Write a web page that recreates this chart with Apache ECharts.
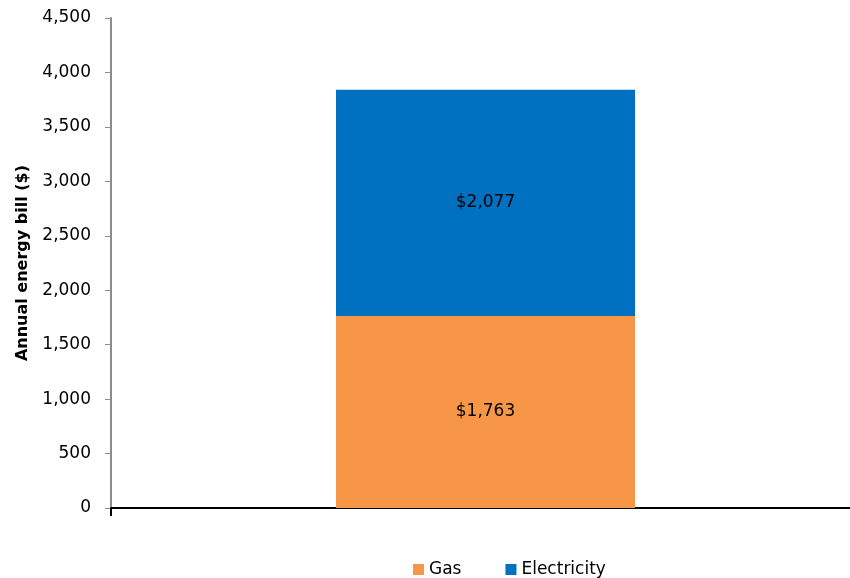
<!DOCTYPE html>
<html>
<head>
<meta charset="utf-8">
<script src="https://cdn.jsdelivr.net/npm/echarts@6/dist/echarts.min.js"></script>
<style>
  html, body { margin: 0; padding: 0; background: #fff; }
  #chart { width: 850px; height: 578px; }
</style>
</head>
<body>
<div id="chart"></div>
<script>
// Annual energy bill, split into gas and electricity
const categories = ['Annual bill'];
const gasValues = [1763];
const electricityValues = [2077];
const yTicks = { min: 0, max: 4500, interval: 500 };

const font = '"DejaVu Sans", "Liberation Sans", Arial, sans-serif';
const dollar = v => '$' + v.toLocaleString('en-US');

const chart = echarts.init(document.getElementById('chart'), null, { renderer: 'canvas' });
chart.setOption({
  animation: false,
  textStyle: { fontFamily: font },
  grid: {
    left: 111, top: 18, width: 749, height: 490,
    containLabel: false, outerBoundsMode: 'none'
  },
  legend: {
    top: 556,
    left: 408,
    itemWidth: 11,
    itemHeight: 11,
    itemGap: 44,
    icon: 'rect',
    textStyle: { fontSize: 17, color: '#000', fontFamily: font },
    data: ['Gas', 'Electricity']
  },
  xAxis: {
    type: 'category',
    data: categories,
    axisLine: { lineStyle: { color: '#000', width: 2 } },
    axisTick: { show: true, length: 8, lineStyle: { color: '#000', width: 2 } },
    axisLabel: { show: false },
    splitLine: { show: false }
  },
  yAxis: {
    type: 'value',
    min: yTicks.min,
    max: yTicks.max,
    interval: yTicks.interval,
    name: 'Annual energy bill ($)',
    nameLocation: 'middle',
    nameGap: 80,
    nameRotate: 90,
    nameTextStyle: { fontSize: 16, fontWeight: 'bold', color: '#000', fontFamily: font },
    axisLine: { show: true, lineStyle: { color: '#8c8c8c', width: 2 } },
    axisTick: { show: true, length: 6, lineStyle: { color: '#8c8c8c', width: 1 } },
    axisLabel: {
      fontSize: 17, color: '#000', margin: 20, fontFamily: font,
      formatter: v => v.toLocaleString('en-US')
    },
    splitLine: { show: false }
  },
  series: [
    {
      name: 'Gas',
      type: 'bar',
      stack: 'bill',
      data: gasValues,
      barWidth: 299,
      itemStyle: { color: '#F79646' },
      label: {
        show: true, position: 'inside', color: '#000', fontSize: 17, fontFamily: font,
        formatter: p => dollar(p.value)
      }
    },
    {
      name: 'Electricity',
      type: 'bar',
      stack: 'bill',
      data: electricityValues,
      barWidth: 299,
      itemStyle: { color: '#0070C0' },
      label: {
        show: true, position: 'inside', color: '#000', fontSize: 17, fontFamily: font,
        formatter: p => dollar(p.value)
      }
    }
  ]
});
</script>
</body>
</html>
